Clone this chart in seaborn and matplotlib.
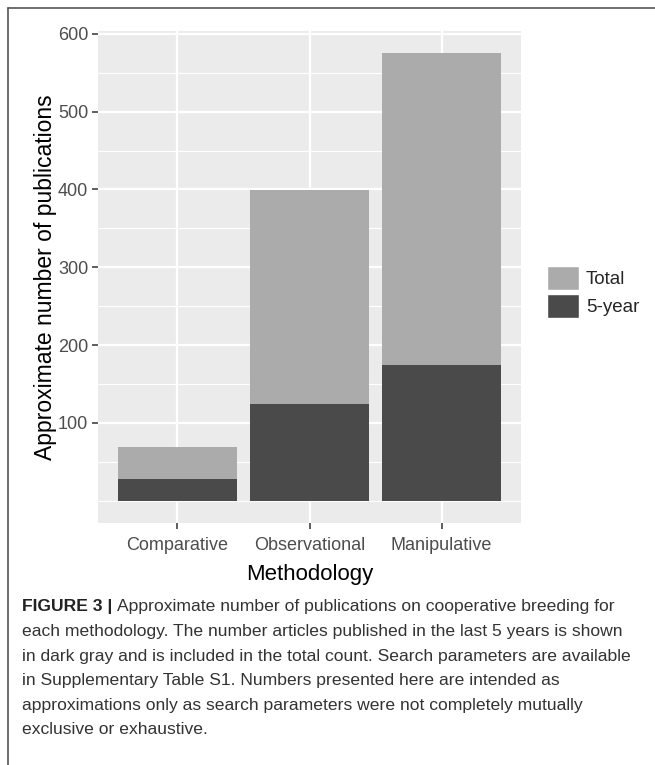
import numpy as np
import pandas as pd
import matplotlib
matplotlib.use('Agg')
import matplotlib.pyplot as plt
from matplotlib.patches import Patch
from matplotlib.lines import Line2D
import seaborn as sns

methods = ['Comparative', 'Observational', 'Manipulative']
total = [69, 399, 575]
five_year = [28, 124, 175]
y_ticks = [100, 200, 300, 400, 500, 600]
y_minor = [0, 50, 150, 250, 350, 450, 550]

caption = [
    ('FIGURE 3 | ', 'Approximate number of publications on cooperative breeding for'),
    ('', 'each methodology. The number articles published in the last 5 years is shown'),
    ('', 'in dark gray and is included in the total count. Search parameters are available'),
    ('', 'in Supplementary Table S1. Numbers presented here are intended as'),
    ('', 'approximations only as search parameters were not completely mutually'),
    ('', 'exclusive or exhaustive.'),
]

df = pd.DataFrame({'Methodology': methods, 'Total': total, '5-year': five_year})

sns.set_style('white')
plt.rcParams['font.family'] = ['Liberation Sans', 'DejaVu Sans']

fig = plt.figure(figsize=(6.55, 7.65), dpi=100)
ax = fig.add_axes([98 / 655, 1 - 523 / 765, 423 / 655, 492 / 765])
ax.set_facecolor('#EBEBEB')

sns.barplot(data=df, x='Methodology', y='Total', color='#ABABAB', width=0.9,
            saturation=1, ax=ax, zorder=3, linewidth=0, edgecolor='none')
sns.barplot(data=df, x='Methodology', y='5-year', color='#4A4A4A', width=0.9,
            saturation=1, ax=ax, zorder=4, linewidth=0, edgecolor='none')

ax.set_xlim(-0.6, 2.6)
ax.set_ylim(-28.75, 603.75)
ax.set_yticks(y_ticks)
ax.set_yticks(y_minor, minor=True)
ax.grid(which='major', color='white', linewidth=1.6, zorder=1)
ax.grid(which='minor', axis='y', color='white', linewidth=0.8, zorder=1)
for s in ax.spines.values():
    s.set_visible(False)
ax.tick_params(axis='both', which='major', length=4, width=1.1, color='#333333',
               labelsize=13, labelcolor='#4D4D4D', pad=3, left=True, bottom=True)
ax.tick_params(axis='x', which='major', pad=6)
ax.tick_params(axis='y', which='minor', length=0)
ax.set_xlabel('Methodology', fontsize=16, color='black', labelpad=7)
ax.set_ylabel('Approximate number of publications', fontsize=16.5, color='black', labelpad=1)

handles = [Patch(facecolor='#ABABAB', edgecolor='white', linewidth=1.0, label='Total'),
           Patch(facecolor='#4A4A4A', edgecolor='white', linewidth=1.0, label='5-year')]
fig.legend(handles=handles, loc='center left', bbox_to_anchor=(538 / 655, 1 - 292 / 765),
           frameon=False, fontsize=13.5, handlelength=1.7, handleheight=1.6,
           labelspacing=0.2, handletextpad=0.35, borderpad=0)

# caption
y0 = 607
for i, (bold, rest) in enumerate(caption):
    y = 1 - (y0 + i * 24.6) / 765
    if bold:
        t = fig.text(22 / 655, y, bold, fontsize=12.6, fontweight='bold', va='center',
                     color='#222222')
        fig.canvas.draw()
        bb = t.get_window_extent()
        x = bb.x1 / fig.bbox.width
    else:
        x = 22 / 655
    fig.text(x, y, rest, fontsize=12.6, va='center', color='#333333')

# frame lines
fig.add_artist(Line2D([8 / 655, 1], [1 - 8 / 765, 1 - 8 / 765], color='#555555', lw=1.2))
fig.add_artist(Line2D([8 / 655, 8 / 655], [0, 1 - 8 / 765], color='#555555', lw=1.2))

fig.savefig('out.png', dpi=100)
